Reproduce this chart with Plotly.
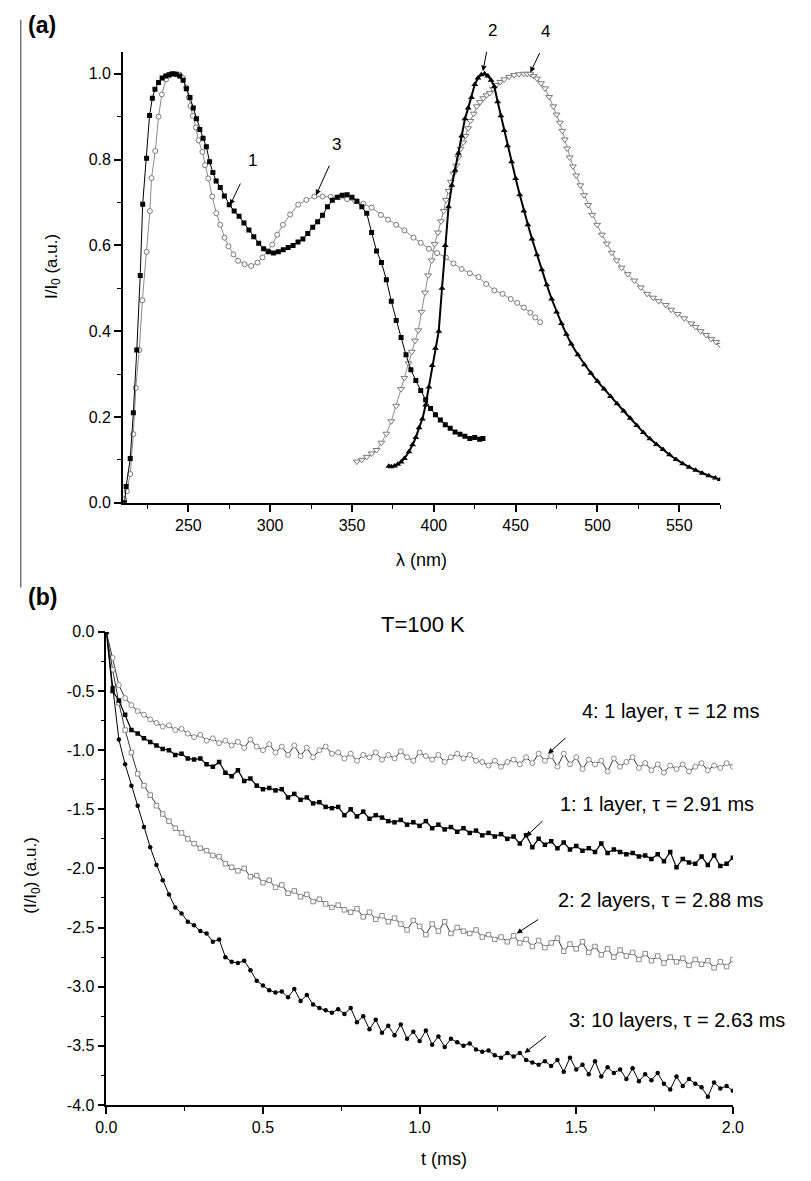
import plotly.graph_objects as go

W, H = 811, 1181

# ---------------- Panel (a) data ----------------
lam1 = [211, 212, 214.5, 216.4, 218.5, 220.6, 222.1, 224.5, 226.3, 228, 229.6, 231.8, 234, 236.2, 238.2,
        240.2, 242.5, 244.7, 246.8, 248.8, 251, 253, 255, 257, 259, 261, 263, 265, 267, 269.5, 272, 275,
        278, 281, 284, 287, 290, 293, 296, 299, 302, 305, 308, 311, 314, 317, 320, 323, 326, 329, 332,
        335, 338, 341, 344, 347, 350, 353, 356, 359, 362, 365, 368, 371, 374, 377, 380, 383, 386, 389,
        392, 395, 398, 401, 404, 407, 410, 413, 416, 419, 422, 425, 428, 430]
int1 = [0.0, 0.038, 0.103, 0.21, 0.356, 0.53, 0.696, 0.803, 0.903, 0.943, 0.964, 0.98, 0.99, 0.995, 0.998,
        1.0, 0.999, 0.995, 0.985, 0.965, 0.945, 0.92, 0.895, 0.87, 0.85, 0.83, 0.795, 0.77, 0.75, 0.735,
        0.715, 0.695, 0.68, 0.668, 0.652, 0.636, 0.62, 0.605, 0.592, 0.585, 0.582, 0.585, 0.59, 0.595,
        0.6, 0.608, 0.615, 0.628, 0.642, 0.655, 0.67, 0.69, 0.705, 0.712, 0.717, 0.718, 0.712, 0.703,
        0.69, 0.675, 0.63, 0.587, 0.56, 0.52, 0.47, 0.425, 0.385, 0.345, 0.31, 0.285, 0.262, 0.24, 0.22,
        0.205, 0.193, 0.182, 0.174, 0.165, 0.16, 0.155, 0.15, 0.152, 0.148, 0.15]

lam2 = [372.5, 374, 376, 378, 380, 382, 384.8, 387, 389, 391, 393, 395, 397, 399, 401, 403, 405, 407,
        409, 411, 413, 415, 417, 419, 421, 423, 425, 427, 429, 431, 433, 435, 437, 439, 441, 443, 445,
        447.5, 450, 452.5, 455, 457.5, 460, 463, 466, 469, 472, 475, 478, 481, 484, 488, 492, 496, 500,
        504, 508, 512, 516, 520, 524, 528, 532, 536, 540, 544, 548, 552, 556, 560, 564, 568, 572, 575]
int2 = [0.085, 0.084, 0.086, 0.09, 0.095, 0.103, 0.119, 0.135, 0.152, 0.175, 0.195, 0.228, 0.27, 0.32,
        0.36, 0.40, 0.50, 0.60, 0.69, 0.74, 0.775, 0.815, 0.855, 0.895, 0.92, 0.945, 0.975, 0.99, 0.998,
        1.0, 0.995, 0.985, 0.97, 0.935, 0.902, 0.868, 0.832, 0.795, 0.756, 0.718, 0.68, 0.648, 0.615,
        0.578, 0.543, 0.508, 0.475, 0.445, 0.418, 0.393, 0.37, 0.345, 0.322, 0.302, 0.283, 0.265, 0.248,
        0.231, 0.214, 0.197, 0.18, 0.164, 0.149, 0.136, 0.124, 0.112, 0.101, 0.091, 0.083, 0.076, 0.069,
        0.063, 0.058, 0.054]

lam3 = [210.8, 212.4, 214.5, 216.4, 217.9, 220, 221.9, 224.5, 226.5, 227.5, 229.8, 231.8, 233.8, 236.4,
        238.8, 241.8, 244.7, 246.7, 248.7, 250.3, 251.3, 252.7, 254.6, 256.2, 258.6, 260.2, 262.2,
        264.6, 267.1, 269.5, 272.1, 274.5, 277.5, 280.4, 284.4, 288.4, 292.3, 295.3, 298.3, 301.3,
        304.3, 307.8, 312.2, 317.1, 322.1, 327, 332, 337, 342, 347, 352, 357, 362, 367.7, 372, 377,
        382, 387.6, 392, 397, 402, 407.4, 412, 417, 422, 427.3, 432, 437, 442, 447, 451, 455, 459, 462,
        465]
int3 = [0.008, 0.027, 0.067, 0.16, 0.268, 0.356, 0.472, 0.585, 0.68, 0.757, 0.82, 0.9, 0.952, 0.987,
        0.997, 1.0, 0.998, 0.99, 0.968, 0.945, 0.925, 0.902, 0.875, 0.845, 0.818, 0.787, 0.756, 0.714,
        0.675, 0.648, 0.618, 0.598, 0.579, 0.564, 0.556, 0.552, 0.56, 0.572, 0.587, 0.602, 0.625,
        0.648, 0.672, 0.695, 0.706, 0.714, 0.714, 0.713, 0.712, 0.708, 0.703, 0.697, 0.688, 0.671,
        0.66, 0.648, 0.635, 0.618, 0.606, 0.592, 0.582, 0.572, 0.558, 0.545, 0.535, 0.526, 0.51,
        0.495, 0.487, 0.475, 0.466, 0.455, 0.443, 0.432, 0.421]

lam4 = [353, 356, 359, 362, 365, 368, 371, 374, 377, 380, 382, 384.5, 386.5, 388.5, 390.5, 392.5, 394.6,
        396.5, 398.7, 400.5, 402.5, 404.4, 406, 407.4, 409, 410.4, 412, 413.7, 415, 416.3, 418, 419.3,
        421, 422.3, 424.3, 426.2, 428.2, 430.2, 432.2, 434.2, 436.2, 438.2, 440.6, 443, 446, 449, 452,
        455, 457, 459, 461, 463, 465.5, 468, 470.5, 473, 475, 477, 478.5, 480, 481.5, 483, 485, 487,
        489.5, 491.8, 494.3, 496.8, 499.8, 502.7, 505.7, 508.7, 511.7, 514.7, 518.5, 522.5, 526.5,
        530.4, 534, 537.4, 541.8, 545, 549, 553, 557.3, 560, 563, 566.5, 569.5, 572.5, 575]
int4 = [0.096, 0.10, 0.107, 0.115, 0.123, 0.14, 0.161, 0.19, 0.226, 0.265, 0.291, 0.325, 0.352, 0.378,
        0.402, 0.445, 0.49, 0.53, 0.565, 0.603, 0.63, 0.656, 0.68, 0.706, 0.727, 0.748, 0.767, 0.786,
        0.805, 0.825, 0.84, 0.855, 0.873, 0.89, 0.907, 0.924, 0.934, 0.943, 0.95, 0.955, 0.965, 0.974,
        0.981, 0.987, 0.993, 0.997, 0.999, 1.0, 1.0, 1.0, 0.995, 0.989, 0.978, 0.966, 0.946, 0.924,
        0.905, 0.886, 0.867, 0.847, 0.826, 0.805, 0.784, 0.763, 0.74, 0.717, 0.694, 0.671, 0.648,
        0.625, 0.604, 0.583, 0.565, 0.548, 0.533, 0.518, 0.502, 0.487, 0.478, 0.47, 0.461, 0.45, 0.44,
        0.43, 0.418, 0.41, 0.40, 0.391, 0.382, 0.375, 0.368]

# ---------------- Panel (b) data (t step 0.02 ms) ----------------
dt = 0.02
dec4 = [0, -0.22, -0.45, -0.56, -0.62, -0.67, -0.70, -0.74, -0.77, -0.80, -0.79, -0.83, -0.82, -0.86,
        -0.89, -0.87, -0.92, -0.90, -0.94, -0.92, -0.96, -0.93, -0.98, -0.91, -0.97, -1.00, -0.95, -1.02,
        -0.97, -1.04, -0.96, -1.05, -0.98, -1.06, -1.00, -0.97, -1.03, -1.02, -1.07, -1.03, -1.09, -1.04,
        -1.06, -1.02, -1.08, -1.04, -1.07, -1.01, -1.06, -1.09, -1.02, -1.05, -1.08, -1.04, -1.10, -1.06,
        -1.03, -1.07, -1.04, -1.09, -1.10, -1.13, -1.09, -1.14, -1.10, -1.08, -1.12, -1.06, -1.11, -1.03,
        -1.09, -1.05, -1.14, -1.03, -1.12, -1.06, -1.16, -1.08, -1.12, -1.09, -1.18, -1.07, -1.14, -1.10,
        -1.06, -1.15, -1.11, -1.17, -1.12, -1.19, -1.13, -1.16, -1.12, -1.18, -1.14, -1.11, -1.17, -1.13,
        -1.15, -1.11, -1.14]
dec1 = [0, -0.50, -0.58, -0.70, -0.83, -0.86, -0.90, -0.93, -0.96, -0.99, -1.00, -1.04, -1.03, -1.07,
        -1.08, -1.07, -1.12, -1.14, -1.10, -1.19, -1.22, -1.17, -1.26, -1.24, -1.30, -1.33, -1.32, -1.34,
        -1.33, -1.40, -1.37, -1.42, -1.40, -1.45, -1.44, -1.48, -1.49, -1.48, -1.55, -1.50, -1.56, -1.52,
        -1.58, -1.55, -1.57, -1.60, -1.61, -1.59, -1.63, -1.61, -1.64, -1.60, -1.66, -1.63, -1.67, -1.65,
        -1.69, -1.66, -1.70, -1.68, -1.72, -1.70, -1.73, -1.71, -1.75, -1.73, -1.79, -1.72, -1.82, -1.75,
        -1.80, -1.77, -1.83, -1.78, -1.84, -1.81, -1.85, -1.83, -1.86, -1.79, -1.87, -1.84, -1.86, -1.88,
        -1.87, -1.90, -1.89, -1.92, -1.88, -1.94, -1.86, -1.99, -1.92, -1.95, -1.96, -1.90, -1.97, -1.89,
        -1.98, -1.96, -1.91]
dec2 = [0, -0.32, -0.60, -0.83, -1.02, -1.20, -1.30, -1.38, -1.47, -1.54, -1.60, -1.66, -1.70, -1.75,
        -1.79, -1.83, -1.85, -1.89, -1.90, -1.96, -1.99, -2.02, -2.00, -2.07, -2.06, -2.12, -2.10, -2.16,
        -2.14, -2.21, -2.19, -2.24, -2.22, -2.28, -2.26, -2.30, -2.33, -2.31, -2.35, -2.37, -2.34, -2.41,
        -2.37, -2.43, -2.40, -2.45, -2.42, -2.47, -2.52, -2.44, -2.49, -2.56, -2.47, -2.53, -2.45, -2.55,
        -2.50, -2.53, -2.55, -2.52, -2.58, -2.56, -2.60, -2.58, -2.62, -2.57, -2.63, -2.60, -2.66, -2.61,
        -2.67, -2.63, -2.59, -2.70, -2.64, -2.68, -2.62, -2.71, -2.66, -2.73, -2.68, -2.75, -2.69, -2.74,
        -2.71, -2.77, -2.72, -2.78, -2.74, -2.80, -2.75, -2.79, -2.76, -2.82, -2.77, -2.81, -2.78, -2.84,
        -2.79, -2.83, -2.77]
dec3 = [0, -0.47, -0.91, -1.12, -1.30, -1.47, -1.65, -1.82, -1.97, -2.10, -2.22, -2.33, -2.38, -2.45,
        -2.48, -2.53, -2.55, -2.62, -2.60, -2.75, -2.79, -2.80, -2.78, -2.86, -2.95, -2.99, -3.03, -3.05,
        -3.04, -3.09, -3.02, -3.12, -3.07, -3.15, -3.18, -3.20, -3.22, -3.19, -3.23, -3.18, -3.30, -3.25,
        -3.36, -3.28, -3.39, -3.33, -3.41, -3.32, -3.44, -3.38, -3.46, -3.37, -3.49, -3.42, -3.51, -3.44,
        -3.47, -3.50, -3.48, -3.53, -3.55, -3.54, -3.58, -3.60, -3.56, -3.59, -3.56, -3.62, -3.64, -3.66,
        -3.63, -3.67, -3.62, -3.72, -3.60, -3.70, -3.66, -3.74, -3.63, -3.76, -3.68, -3.73, -3.70, -3.78,
        -3.69, -3.80, -3.74, -3.79, -3.73, -3.82, -3.87, -3.76, -3.84, -3.78, -3.82, -3.85, -3.93, -3.81,
        -3.86, -3.84, -3.88]

def tgrid(vals):
    return [round(i * dt, 4) for i in range(len(vals))]

# tick labels
a_xticks = [250, 300, 350, 400, 450, 500, 550]
a_yticks = [0.0, 0.2, 0.4, 0.6, 0.8, 1.0]
a_yticklabels = ["0.0", "0.2", "0.4", "0.6", "0.8", "1.0"]
b_xticks = [0.0, 0.5, 1.0, 1.5, 2.0]
b_xticklabels = ["0.0", "0.5", "1.0", "1.5", "2.0"]
b_yticks = [-4.0, -3.5, -3.0, -2.5, -2.0, -1.5, -1.0, -0.5, 0.0]
b_yticklabels = ["-4.0", "-3.5", "-3.0", "-2.5", "-2.0", "-1.5", "-1.0", "-0.5", "0.0"]

FONT = "Liberation Sans, Arial, sans-serif"
GRAY = "#7a7a7a"

def px(x):
    return x / W

def py(y):
    return 1 - y / H

fig = go.Figure()

# panel (a)
fig.add_trace(go.Scatter(x=lam3, y=int3, mode="lines+markers", xaxis="x", yaxis="y",
                         line=dict(color="#8a8a8a", width=1),
                         marker=dict(symbol="circle", size=5, color="white", line=dict(color=GRAY, width=1))))
fig.add_trace(go.Scatter(x=lam4, y=int4, mode="lines+markers", xaxis="x", yaxis="y",
                         line=dict(color="#8a8a8a", width=1),
                         marker=dict(symbol="triangle-down", size=6, color="white", line=dict(color=GRAY, width=1))))
fig.add_trace(go.Scatter(x=lam1, y=int1, mode="lines+markers", xaxis="x", yaxis="y",
                         line=dict(color="black", width=1),
                         marker=dict(symbol="square", size=5, color="black")))
fig.add_trace(go.Scatter(x=lam2, y=int2, mode="lines+markers", xaxis="x", yaxis="y",
                         line=dict(color="black", width=2),
                         marker=dict(symbol="triangle-up", size=6, color="black")))

# panel (b)
fig.add_trace(go.Scatter(x=tgrid(dec4), y=dec4, mode="lines+markers", xaxis="x2", yaxis="y2",
                         line=dict(color="#333333", width=1),
                         marker=dict(symbol="circle", size=5, color="white", line=dict(color="#8a8a8a", width=1))))
fig.add_trace(go.Scatter(x=tgrid(dec2), y=dec2, mode="lines+markers", xaxis="x2", yaxis="y2",
                         line=dict(color="#333333", width=1),
                         marker=dict(symbol="square", size=4.5, color="white", line=dict(color="#8a8a8a", width=1))))
fig.add_trace(go.Scatter(x=tgrid(dec1), y=dec1, mode="lines+markers", xaxis="x2", yaxis="y2",
                         line=dict(color="black", width=1.2),
                         marker=dict(symbol="square", size=4.5, color="black")))
fig.add_trace(go.Scatter(x=tgrid(dec3), y=dec3, mode="lines+markers", xaxis="x2", yaxis="y2",
                         line=dict(color="black", width=1),
                         marker=dict(symbol="circle", size=4.5, color="black")))

axis_common = dict(showline=True, linecolor="black", linewidth=1.5, ticks="outside", ticklen=7,
                   tickwidth=1.5, tickcolor="black", showgrid=False, zeroline=False,
                   tickfont=dict(family=FONT, size=16, color="black"))

fig.update_layout(
    width=W, height=H, margin=dict(l=0, r=0, t=0, b=0), autosize=False,
    paper_bgcolor="white", plot_bgcolor="white", showlegend=False,
    xaxis=dict(domain=[px(115), px(729)], range=[210, 575], anchor="y",
               tickvals=a_xticks, ticktext=[str(v) for v in a_xticks],
               minor=dict(ticks="outside", ticklen=4, tickwidth=1.2, tickcolor="black",
                          tickvals=[225, 275, 325, 375, 425, 475, 525, 575]),
               **axis_common),
    yaxis=dict(domain=[py(502), py(45)], range=[0, 1.05], anchor="x",
               tickvals=a_yticks, ticktext=a_yticklabels,
               minor=dict(ticks="outside", ticklen=4, tickwidth=1.2, tickcolor="black",
                          tickvals=[0.1, 0.3, 0.5, 0.7, 0.9]),
               **axis_common),
    xaxis2=dict(domain=[px(98), px(742)], range=[0, 2], anchor="y2",
                tickvals=b_xticks, ticktext=b_xticklabels,
                minor=dict(ticks="outside", ticklen=4, tickwidth=1.2, tickcolor="black",
                           tickvals=[0.25, 0.75, 1.25, 1.75]),
                **axis_common),
    yaxis2=dict(domain=[py(1113), py(633)], range=[-4, 0], anchor="x2",
                tickvals=b_yticks, ticktext=b_yticklabels,
                minor=dict(ticks="outside", ticklen=4, tickwidth=1.2, tickcolor="black",
                           tickvals=[-3.75, -3.25, -2.75, -2.25, -1.75, -1.25, -0.75, -0.25]),
                **axis_common),
)

ann = []

def text(x, y, s, size=17, bold=False, angle=0):
    ann.append(dict(xref="paper", yref="paper", x=px(x), y=py(y), text=("<b>%s</b>" % s) if bold else s,
                    showarrow=False, xanchor="center", yanchor="middle", textangle=angle,
                    font=dict(family=FONT, size=size, color="black")))

def arrow(xr, yr, x, y, dx, dy):
    ann.append(dict(xref=xr, yref=yr, x=x, y=y, ax=dx, ay=dy, text="", showarrow=True,
                    arrowhead=2, arrowsize=1.1, arrowwidth=1, arrowcolor="black", standoff=0))

# panel labels and titles
text(32, 17, "(a)", size=23, bold=True)
text(32, 598, "(b)", size=23, bold=True)
text(422, 560, "λ (nm)", size=18)
text(445, 1168, "t (ms)", size=18)
text(43, 262, "I/I<sub>0</sub> (a.u.)", size=17, angle=-90)
text(22, 880, "(I/I<sub>0</sub>) (a.u.)", size=17, angle=-90)
text(424, 625, "T=100 K", size=22)

# panel (a) curve labels and arrows
text(248, 155, "1", size=17)
text(335, 138, "3", size=17)
text(495, 23, "2", size=17)
text(549, 24, "4", size=17)
arrow("x", "y", 275.5, 0.694, 11, -23)
arrow("x", "y", 328, 0.717, 14, -31)
arrow("x", "y", 430, 1.006, 4, -21)
arrow("x", "y", 459, 1.003, 10, -21)

# panel (b) curve labels and arrows
text(678, 713, "4: 1 layer, τ = 12 ms", size=20)
text(664, 808, "1: 1 layer, τ = 2.91 ms", size=20)
text(668, 905, "2: 2 layers, τ = 2.88 ms", size=20)
text(685, 1027, "3: 10 layers, τ = 2.63 ms", size=20)
arrow("x2", "y2", 1.41, -1.03, 19, -17)
arrow("x2", "y2", 1.34, -1.73, 18, -17)
arrow("x2", "y2", 1.31, -2.55, 23, -15)
arrow("x2", "y2", 1.335, -3.56, 23, -18)

fig.update_layout(annotations=ann)

# page edge line at the left of panel (a)
fig.add_shape(type="line", xref="paper", yref="paper", x0=px(10), x1=px(10), y0=py(12), y1=py(588),
              line=dict(color="#777777", width=1.5))

fig.write_html("out.html")
